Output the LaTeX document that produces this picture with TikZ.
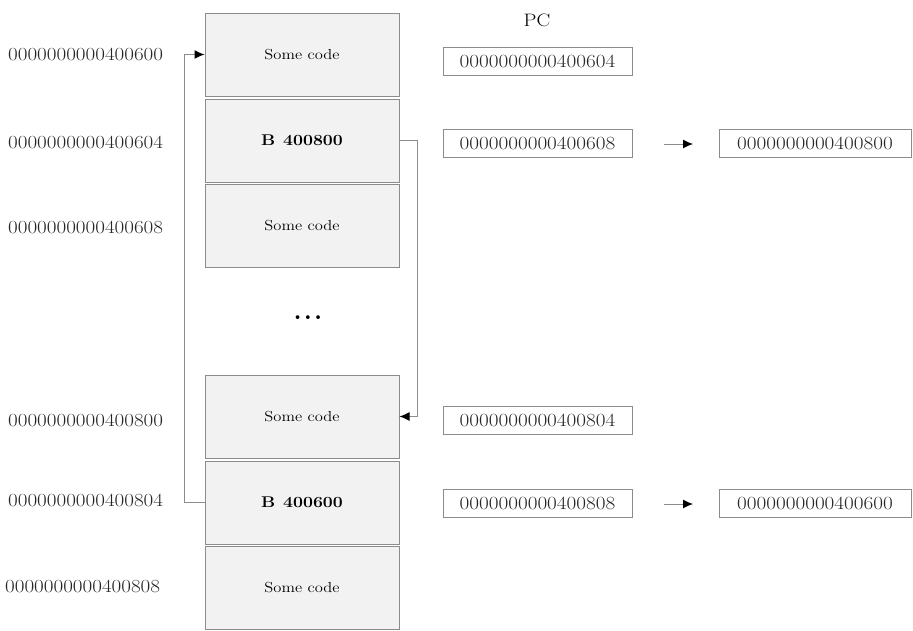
\documentclass[tikz,border=0pt]{standalone}
\usepackage{graphicx}
\usetikzlibrary{arrows.meta}
\newcommand{\wtxt}[1]{\scalebox{1.14}[1]{#1}}
\definecolor{cellfill}{HTML}{F2F2F2}
\definecolor{edge}{HTML}{8C8C8C}
\tikzset{
  cell/.style={draw=edge, fill=cellfill, line width=1pt, minimum width=194pt, minimum height=83pt, inner sep=0pt,
    font=\fontsize{14.5}{16}\selectfont},
  branch/.style={font=\fontsize{15.5}{17}\selectfont},
  pcbox/.style={draw=edge, line width=1pt, minimum width=189pt, minimum height=28pt, inner sep=0pt,
    font=\fontsize{18.6}{20}\selectfont, text=black!85},
  addr/.style={inner sep=0pt, font=\fontsize{18.5}{20}\selectfont, text=black!85},
  link/.style={draw=edge, line width=1pt, -{Latex[length=10pt,width=9pt,color=black]}},
  step arrow/.style={draw=edge, line width=1pt, -{Latex[length=10pt,width=9pt,color=black]}},
}
\begin{document}
\begin{tikzpicture}[x=1pt,y=-1pt]
\useasboundingbox (0,0) rectangle (913,630);

% memory cells
\node[cell] (c1) at (302,54.5) {\wtxt{Some code}};
\node[cell, branch] (c2) at (302,140.5) {\wtxt{\textbf{B\hspace{0.45em}400800}}};
\node[cell] (c3) at (302,226) {\wtxt{Some code}};
\node[inner sep=0pt, font=\fontsize{26}{28}\selectfont] (dots) at (308,318) {\textbf{.\hspace{0.08em}.\hspace{0.08em}.}};
\node[cell] (c4) at (302,416.5) {\wtxt{Some code}};
\node[cell, branch] (c5) at (302,502.5) {\wtxt{\textbf{B\hspace{0.45em}400600}}};
\node[cell] (c6) at (302,588) {\wtxt{Some code}};

% addresses
\node[addr, anchor=west] (a1) at (8,54) {\wtxt{0000000000400600}};
\node[addr, anchor=west] (a2) at (8,142) {\wtxt{0000000000400604}};
\node[addr, anchor=west] (a3) at (8,227) {\wtxt{0000000000400608}};
\node[addr, anchor=west] (a4) at (8,420) {\wtxt{0000000000400800}};
\node[addr, anchor=west] (a5) at (8,500) {\wtxt{0000000000400804}};
\node[addr, anchor=west] (a6) at (5,586) {\wtxt{0000000000400808}};

% program counter
\node[font=\fontsize{18}{20}\selectfont] (pc) at (537,20) {\wtxt{PC}};
\node[pcbox] (p1) at (537.5,61) {\wtxt{0000000000400604}};
\node[pcbox] (p2) at (537.5,143) {\wtxt{0000000000400608}};
\node[pcbox, minimum width=192pt] (n2) at (815,143) {\wtxt{0000000000400800}};
\node[pcbox] (p4) at (537.5,420) {\wtxt{0000000000400804}};
\node[pcbox] (p5) at (537.5,503) {\wtxt{0000000000400808}};
\node[pcbox, minimum width=192pt] (n5) at (815,503) {\wtxt{0000000000400600}};

\coordinate (s2) at (664,144);
\coordinate (e2) at (693,144);
\coordinate (s5) at (664,504);
\coordinate (e5) at (693,504);
\draw[step arrow] (s2) -- (e2);
\draw[step arrow] (s5) -- (e5);

% branch connectors
\draw[link] (c2.east) -- ++(18,0) |- (c4.east);
\draw[link] (c5.west) -- ++(-20,0) |- (c1.west);
\end{tikzpicture}
\end{document}
